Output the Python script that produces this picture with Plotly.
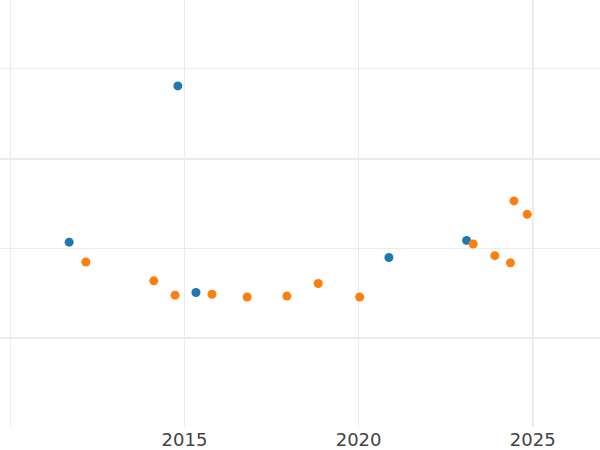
import plotly.graph_objects as go

# Data
blue_x = [2011.69, 2014.81, 2015.33, 2020.87, 2023.10]
blue_y = [1.07, 2.81, 0.51, 0.90, 1.09]

orange_x = [2012.17, 2014.12, 2014.73, 2015.79, 2016.80, 2017.94, 2018.84,
            2020.03, 2023.29, 2023.91, 2024.36, 2024.46, 2024.84]
orange_y = [0.85, 0.64, 0.48, 0.49, 0.46, 0.47, 0.61,
            0.46, 1.05, 0.92, 0.84, 1.53, 1.38]

x_ticks = [2015, 2020, 2025]
x_ticktext = ["2015", "2020", "2025"]

GRID = "#ebebeb"

fig = go.Figure()
fig.add_trace(go.Scatter(x=blue_x, y=blue_y, mode="markers", name="Series A",
                         marker=dict(color="#1f77b4", size=9)))
fig.add_trace(go.Scatter(x=orange_x, y=orange_y, mode="markers", name="Series B",
                         marker=dict(color="#ff7f0e", size=9)))

fig.add_vline(x=2025, line=dict(color=GRID, width=2), layer="below")

fig.update_layout(
    width=600, height=450,
    margin=dict(l=0, r=0, t=0, b=23),
    paper_bgcolor="white", plot_bgcolor="white",
    showlegend=False,
    font=dict(family="DejaVu Sans", size=18, color="#444444"),
    xaxis=dict(range=[2009.704, 2026.93], tickvals=x_ticks, ticktext=x_ticktext,
               showgrid=True, gridcolor=GRID, gridwidth=1, zeroline=False,
               showline=False, ticks="",
               minor=dict(tickvals=[2010], showgrid=True, gridcolor=GRID, gridwidth=1)),
    yaxis=dict(range=[-0.988, 3.767], tickvals=[0, 2], showticklabels=False,
               showgrid=True, gridcolor=GRID, gridwidth=2, zeroline=False,
               showline=False, ticks="",
               minor=dict(tickvals=[1, 3], showgrid=True, gridcolor=GRID, gridwidth=1)),
)

fig.write_html("out.html",
               config={"displayModeBar": False},
               post_script="document.body.style.margin='0px';")
